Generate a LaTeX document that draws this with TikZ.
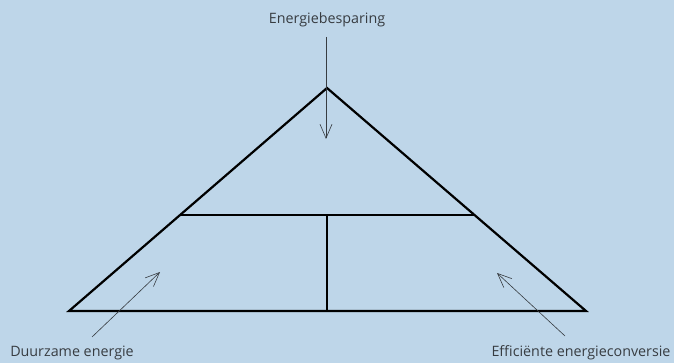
\documentclass[tikz,border=0pt]{standalone}
\usepackage{fontspec}
\setmainfont{Open Sans}
\usetikzlibrary{arrows.meta,calc}
\definecolor{bgblue}{RGB}{190,214,233}
\definecolor{txtgray}{RGB}{55,60,65}
\tikzset{
	label text/.style={text=txtgray,font=\fontsize{14.3}{17}\selectfont,inner sep=0pt},
	side/.style={line width=2.2pt,black},
	pointer/.style={->,txtgray,line width=0.6pt}
}
\begin{document}
\begin{tikzpicture}[x=1pt,y=-1pt,>={Straight Barb[length=14pt,width=12pt]}]
	% Background
	\fill[bgblue] (0,0) rectangle (674,363);
	\useasboundingbox (0,0) rectangle (674,363);
	
	% Points
	\coordinate (A) at (69,311);
	\coordinate (B) at (586,311);
	\coordinate (T) at (327,88);
	\coordinate (L) at ($(T)!0.5695!(A)$);
	\coordinate (R) at ($(T)!0.5695!(B)$);
	\coordinate (M) at (327,215);
	\coordinate (K) at (327,311);
	
	% Triangle
	\draw[side,line join=miter] (A)--(T)--(B)--cycle;
	\draw[side] (L)--(R);
	\draw[side] (M)--(K);
	
	% Labels
	\node[label text] (saving) at (327,20) {Energiebesparing};
	\node[label text] (renew) at (72,353) {Duurzame energie};
	\node[label text] (conv) at (581,353) {Efficiënte energieconversie};
	
	% Arrows
	\coordinate (s1) at (326,37);
	\coordinate (s2) at (326,139);
	\coordinate (r1) at (92,337);
	\coordinate (r2) at (160,272);
	\coordinate (c1) at (565,336);
	\coordinate (c2) at (497,273);
	\draw[pointer] (s1)--(s2);
	\draw[pointer] (r1)--(r2);
	\draw[pointer] (c1)--(c2);
\end{tikzpicture}
\end{document}
